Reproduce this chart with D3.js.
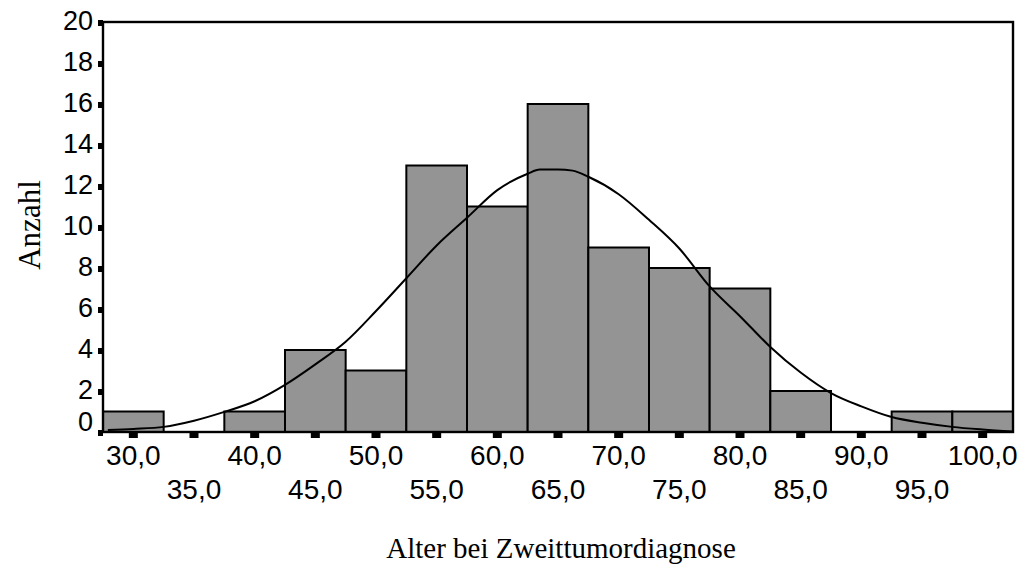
<!DOCTYPE html>
<html>
<head>
<meta charset="utf-8">
<script src="https://cdn.jsdelivr.net/npm/d3@7/dist/d3.min.js"></script>
<style>
  html, body { margin: 0; padding: 0; background: #ffffff; }
  svg { display: block; }
</style>
</head>
<body>
<svg id="chart" width="1031" height="573"></svg>
<script>
// Histogram of age at second tumour diagnosis (bin width 5 years)
const binCenters = [30, 35, 40, 45, 50, 55, 60, 65, 70, 75, 80, 85, 90, 95, 100];
const counts     = [1, 0, 1, 4, 3, 13, 11, 16, 9, 8, 7, 2, 0, 1, 1];

// Fitted normal curve, sampled along the age axis
const curveAge   = [27.9, 30, 32.5, 35, 37.5, 40, 42.5, 45, 47.5, 50, 52.5, 55, 57.5, 60, 62.5, 63.5, 65, 66.2, 67.5, 70, 72.5, 75, 77.5, 80, 82.5, 85, 87.5, 90, 92.5, 95, 97.5, 100, 102.5];
const curveCount = [0.1, 0.15, 0.25, 0.55, 0.98, 1.5, 2.3, 3.3, 4.4, 5.9, 7.5, 9.1, 10.45, 11.8, 12.6, 12.8, 12.8, 12.75, 12.45, 11.6, 10.35, 8.95, 7.1, 5.65, 4.15, 2.9, 1.9, 1.25, 0.73, 0.45, 0.25, 0.12, 0.02];

const yTicks = [0, 2, 4, 6, 8, 10, 12, 14, 16, 18, 20];
const xTickLabels = ["30,0", "35,0", "40,0", "45,0", "50,0", "55,0", "60,0", "65,0", "70,0", "75,0", "80,0", "85,0", "90,0", "95,0", "100,0"];

const xLabel = "Alter bei Zweittumordiagnose";
const yLabel = "Anzahl";

const binWidth = 5;
const plot = { left: 103, right: 1013, top: 22, bottom: 432 };

const svg = d3.select("#chart");

const x = d3.scaleLinear()
  .domain([binCenters[0] - binWidth / 2, binCenters[binCenters.length - 1] + binWidth / 2])
  .range([plot.left, plot.right]);
const y = d3.scaleLinear().domain([0, 20]).range([plot.bottom, plot.top]);

const sans = "'Liberation Sans', Arial, Helvetica, sans-serif";
const serif = "'Liberation Serif', 'Times New Roman', Times, serif";

// bars
svg.append("g").selectAll("rect")
  .data(binCenters.map((c, i) => ({ c, n: counts[i] })).filter(d => d.n > 0))
  .join("rect")
  .attr("x", d => x(d.c - binWidth / 2))
  .attr("y", d => y(d.n))
  .attr("width", d => x(d.c + binWidth / 2) - x(d.c - binWidth / 2))
  .attr("height", d => y(0) - y(d.n))
  .attr("fill", "#949494")
  .attr("stroke", "#000")
  .attr("stroke-width", 2);

// normal curve
const line = d3.line()
  .x((d, i) => x(curveAge[i]))
  .y(d => y(d))
  .curve(d3.curveMonotoneX);
svg.append("path")
  .datum(curveCount)
  .attr("d", line)
  .attr("fill", "none")
  .attr("stroke", "#000")
  .attr("stroke-width", 2);

// frame
svg.append("rect")
  .attr("x", plot.left).attr("y", plot.top)
  .attr("width", plot.right - plot.left).attr("height", plot.bottom - plot.top)
  .attr("fill", "none").attr("stroke", "#000").attr("stroke-width", 2.4);

// y axis ticks and labels
const yAxis = svg.append("g");
yAxis.selectAll("rect").data(yTicks).join("rect")
  .attr("x", plot.left - 5).attr("y", d => y(d) - 2)
  .attr("width", 5).attr("height", 6).attr("fill", "#000");
yAxis.selectAll("text").data(yTicks).join("text")
  .attr("x", plot.left - 10)
  .attr("y", d => d === 0 ? y(d) - 1 : y(d) + 8)
  .attr("text-anchor", "end")
  .attr("font-family", sans).attr("font-size", 27).attr("fill", "#000")
  .text(d => d);

// x axis ticks and staggered labels
const xAxis = svg.append("g");
xAxis.selectAll("rect").data(binCenters).join("rect")
  .attr("x", d => x(d) - 4.5).attr("y", plot.bottom + 1)
  .attr("width", 9).attr("height", 5).attr("fill", "#000");
xAxis.selectAll("text").data(binCenters).join("text")
  .attr("x", d => x(d))
  .attr("y", (d, i) => i % 2 === 0 ? 465 : 499)
  .attr("text-anchor", "middle")
  .attr("font-family", sans).attr("font-size", 28).attr("fill", "#000")
  .text((d, i) => xTickLabels[i]);

// axis titles
svg.append("text")
  .attr("x", 561).attr("y", 558)
  .attr("text-anchor", "middle")
  .attr("font-family", serif).attr("font-size", 29).attr("fill", "#000")
  .text(xLabel);
svg.append("text")
  .attr("transform", "translate(40,225) rotate(-90)")
  .attr("text-anchor", "middle")
  .attr("font-family", serif).attr("font-size", 31).attr("fill", "#000")
  .text(yLabel);
</script>
</body>
</html>
